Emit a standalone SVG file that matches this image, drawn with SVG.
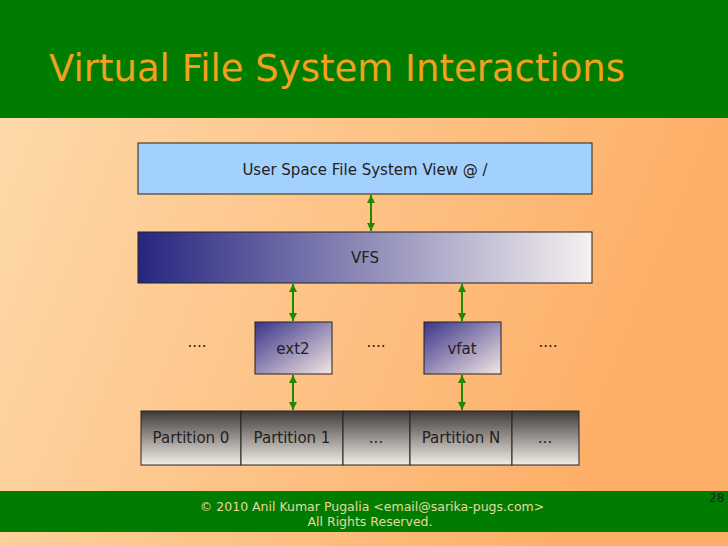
<svg xmlns="http://www.w3.org/2000/svg" width="728" height="546" viewBox="0 0 728 546">
<defs>
<linearGradient id="bg" x1="0" y1="0" x2="1" y2="0.3"><stop offset="0" stop-color="#fedcae"/><stop offset="1" stop-color="#fdae66"/></linearGradient>
<linearGradient id="vfs" x1="0" y1="0" x2="1" y2="0"><stop offset="0" stop-color="#262680"/><stop offset="1" stop-color="#f6f0f0"/></linearGradient>
<linearGradient id="fs" x1="0" y1="0" x2="1" y2="1"><stop offset="0" stop-color="#3a3488"/><stop offset="1" stop-color="#f4e6e4"/></linearGradient>
<linearGradient id="part" x1="0" y1="0" x2="0" y2="1"><stop offset="0" stop-color="#3f3a36"/><stop offset="1" stop-color="#f3eee8"/></linearGradient>
<marker id="ah" viewBox="0 0 10 10" refX="10" refY="5" markerWidth="8" markerHeight="8" orient="auto-start-reverse" markerUnits="userSpaceOnUse"><path d="M0,0 L10,5 L0,10 z" fill="#1f8a00"/></marker>
<style>
.t{font-family:"DejaVu Sans",sans-serif;font-size:15px;fill:#222;text-anchor:middle}
.b{stroke:#222;stroke-width:1}
.c{stroke:#1f8a00;stroke-width:2;fill:none;marker-start:url(#ah);marker-end:url(#ah)}
</style>
</defs>
<rect width="728" height="546" fill="url(#bg)"/>
<rect width="728" height="118" fill="#007c00"/>
<text x="49" y="81" font-family="DejaVu Sans,sans-serif" font-size="37" fill="#f2a020">Virtual File System Interactions</text>
<rect y="491" width="728" height="41" fill="#007c00"/>
<text x="372" y="511" font-family="DejaVu Sans,sans-serif" font-size="12.5" fill="#e8d8a0" text-anchor="middle">© 2010 Anil Kumar Pugalia &lt;email@sarika-pugs.com&gt;</text>
<text x="370" y="526" font-family="DejaVu Sans,sans-serif" font-size="12.5" fill="#e8d8a0" text-anchor="middle">All Rights Reserved.</text>
<text x="709" y="502" font-family="DejaVu Sans,sans-serif" font-size="12" fill="#222">28</text>
<g id="user"><rect class="b" x="138" y="143" width="454" height="51" fill="#a3d1fd"/><text class="t" x="365" y="175">User Space File System View @ /</text></g>
<g id="vfs-node"><rect class="b" x="138" y="232" width="454" height="51" fill="url(#vfs)"/><text class="t" x="365" y="263">VFS</text></g>
<g id="ext2"><rect class="b" x="255" y="322" width="77" height="52" fill="url(#fs)"/><text class="t" x="293" y="354">ext2</text></g>
<g id="vfat"><rect class="b" x="424" y="322" width="77" height="52" fill="url(#fs)"/><text class="t" x="462" y="354">vfat</text></g>
<g id="dots"><text class="t" x="197" y="347">....</text><text class="t" x="376" y="347">....</text><text class="t" x="548" y="347">....</text></g>
<g id="partitions">
<rect class="b" x="141" y="411" width="100" height="54" fill="url(#part)"/><text class="t" x="191" y="443">Partition 0</text>
<rect class="b" x="241" y="411" width="102" height="54" fill="url(#part)"/><text class="t" x="292" y="443">Partition 1</text>
<rect class="b" x="343" y="411" width="67" height="54" fill="url(#part)"/><text class="t" x="376" y="443">...</text>
<rect class="b" x="410" y="411" width="102" height="54" fill="url(#part)"/><text class="t" x="461" y="443">Partition N</text>
<rect class="b" x="512" y="411" width="67" height="54" fill="url(#part)"/><text class="t" x="545" y="443">...</text>
</g>
<g id="connectors">
<line class="c" x1="371" y1="195" x2="371" y2="231"/>
<line class="c" x1="293" y1="284" x2="293" y2="321"/>
<line class="c" x1="462" y1="284" x2="462" y2="321"/>
<line class="c" x1="293" y1="375" x2="293" y2="410"/>
<line class="c" x1="462" y1="375" x2="462" y2="410"/>
</g>
</svg>
